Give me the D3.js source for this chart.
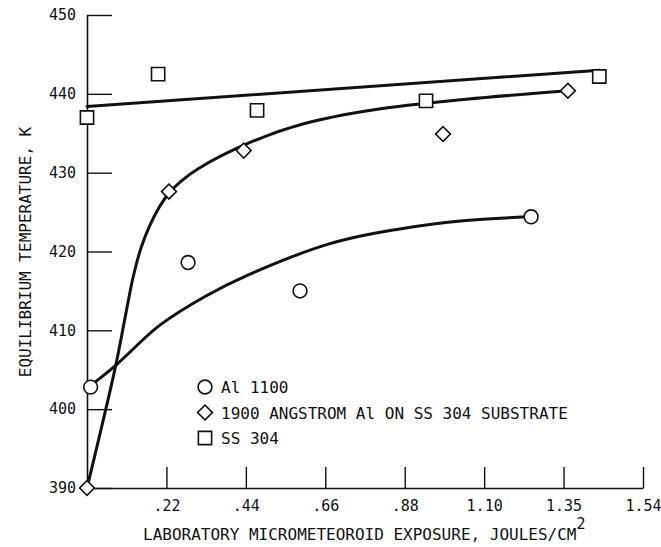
<!DOCTYPE html>
<html>
<head>
<meta charset="utf-8">
<script src="https://cdn.jsdelivr.net/npm/d3@7"></script>
<style>
  body { margin: 0; background: #fff; }
  text { font-family: "DejaVu Sans Mono", "Liberation Mono", monospace; fill: #111; }
</style>
</head>
<body>
<div id="chart"></div>
<script>
// Tick labels (the 6th tick is printed "1.35" on the original)
const xTickValues = [0.22, 0.44, 0.66, 0.88, 1.10, 1.32, 1.54];
const xTickLabels = [".22", ".44", ".66", ".88", "1.10", "1.35", "1.54"];
const yTickValues = [390, 400, 410, 420, 430, 440, 450];

// Measured points [exposure, temperature]
const al1100Points = [[0.01, 402.8], [0.28, 418.6], [0.59, 415.0], [1.23, 424.4]];
const angstromPoints = [[0, 390], [0.227, 427.6], [0.434, 432.8], [0.986, 434.9], [1.332, 440.4]];
const ss304Points = [[0, 437.0], [0.197, 442.5], [0.471, 437.9], [0.939, 439.1], [1.419, 442.2]];

// Faired curves
const al1100Curve = [[0.01, 403.0], [0.078, 405.5], [0.2, 410.6], [0.327, 414.3], [0.45, 417.1],
  [0.673, 421.0], [0.858, 422.8], [1.042, 423.9], [1.22, 424.4]];
const angstromCurve = [[0, 390], [0.078, 405.2], [0.105, 411.5], [0.128, 416.8], [0.15, 420.5],
  [0.175, 423.4], [0.2, 425.6], [0.225, 427.3], [0.26, 428.9], [0.308, 430.5], [0.45, 433.8],
  [0.6, 436.2], [0.8, 438.0], [1.05, 439.3], [1.332, 440.4]];
const ss304Curve = [[0, 438.4], [1.42, 443.0]];

const legendLabels = ["Al 1100", "1900 ANGSTROM Al ON SS 304 SUBSTRATE", "SS 304"];

const width = 661, height = 547;

const svg = d3.select("#chart")
  .append("svg")
  .attr("width", width)
  .attr("height", height);

const x = d3.scaleLinear().domain([0, 1.54]).range([87, 643]);
const y = d3.scaleLinear().domain([390, 450]).range([488, 15]);

// Axes
const xAxis = d3.axisBottom(x)
  .tickValues(xTickValues)
  .tickFormat((d, i) => xTickLabels[i])
  .tickSizeInner(-21)
  .tickSizeOuter(0)
  .tickPadding(12);

const yAxis = d3.axisLeft(y)
  .tickValues(yTickValues)
  .tickFormat(d3.format("d"))
  .tickSizeInner(-25)
  .tickSizeOuter(0)
  .tickPadding(11);

const gx = svg.append("g")
  .attr("transform", `translate(0,${y(390)})`)
  .call(xAxis);

const gy = svg.append("g")
  .attr("transform", `translate(${x(0)},0)`)
  .call(yAxis);

[gx, gy].forEach(g => {
  g.select(".domain").attr("stroke", "#111").attr("stroke-width", 1.6);
  g.selectAll(".tick line").attr("stroke", "#111").attr("stroke-width", 1.4);
  g.selectAll(".tick text")
    .style("font-family", "'DejaVu Sans Mono', monospace")
    .style("font-size", "15px")
    .attr("fill", "#111");
});

// Axis titles
const xTitle = svg.append("text")
  .attr("x", 143)
  .attr("y", 540)
  .style("font-size", "16px");
xTitle.append("tspan").text("LABORATORY MICROMETEOROID EXPOSURE, JOULES/CM");
xTitle.append("tspan").attr("dy", -11).style("font-size", "15px").text("2");

svg.append("text")
  .attr("transform", "translate(31,252) rotate(-90)")
  .attr("text-anchor", "middle")
  .style("font-size", "16px")
  .text("EQUILIBRIUM TEMPERATURE, K");

// Curves
const line = d3.line()
  .x(d => x(d[0]))
  .y(d => y(d[1]))
  .curve(d3.curveCatmullRom.alpha(0.5));

[al1100Curve, angstromCurve, ss304Curve].forEach(c => {
  svg.append("path")
    .attr("d", line(c))
    .attr("fill", "none")
    .attr("stroke", "#111")
    .attr("stroke-width", 3)
    .attr("stroke-linejoin", "round")
    .attr("stroke-linecap", "round");
});

// Markers
const circleSym = d3.symbol().type(d3.symbolCircle).size(150);
const diamondSym = d3.symbol().type(d3.symbolSquare).size(110);
const squareSym = d3.symbol().type(d3.symbolSquare).size(175);

function drawMarkers(points, sym, rotate) {
  svg.append("g").selectAll("path")
    .data(points)
    .join("path")
    .attr("d", sym)
    .attr("transform", d => `translate(${x(d[0])},${y(d[1])})` + (rotate ? " rotate(45)" : ""))
    .attr("fill", "#fff")
    .attr("stroke", "#111")
    .attr("stroke-width", 1.6);
}

drawMarkers(al1100Points, circleSym, false);
drawMarkers(angstromPoints, diamondSym, true);
drawMarkers(ss304Points, squareSym, false);

// Legend
const legendSyms = [[circleSym, false], [diamondSym, true], [squareSym, false]];
const legend = svg.append("g").attr("transform", "translate(205,387)");

legend.selectAll("g")
  .data(legendLabels)
  .join("g")
  .attr("transform", (d, i) => `translate(0,${i * 25.5})`)
  .each(function(d, i) {
    const g = d3.select(this);
    g.append("path")
      .attr("d", legendSyms[i][0])
      .attr("transform", legendSyms[i][1] ? "rotate(45)" : null)
      .attr("fill", "#fff")
      .attr("stroke", "#111")
      .attr("stroke-width", 1.6);
    g.append("text")
      .attr("x", 16)
      .attr("y", 6)
      .style("font-size", "16px")
      .text(d);
  });
</script>
</body>
</html>
